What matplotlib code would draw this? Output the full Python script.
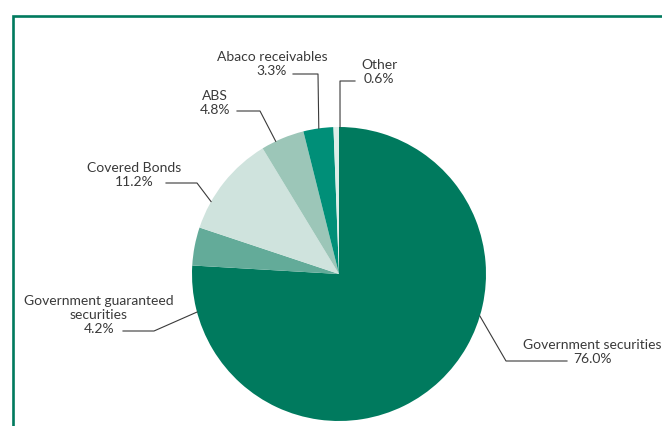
import matplotlib
matplotlib.use("Agg")
import matplotlib.pyplot as plt
import numpy as np

W, H = 662, 426

labels = ["Government securities", "Government guaranteed\nsecurities",
          "Covered Bonds", "ABS", "Abaco receivables", "Other"]
shares = [76.0, 4.2, 11.2, 4.8, 3.3, 0.6]
colors = ["#007a5e", "#63ab99", "#cfe3dd", "#9cc6b8", "#008f78", "#ddeee9"]

green = "#007a5e"
ink = "#3a3a3a"


def py(y):
    # pixel row -> data y
    return H - y


fig = plt.figure(figsize=(W / 100, H / 100), dpi=100)
ax = fig.add_axes([0, 0, 1, 1])

cx, cy, r = 339, 274, 147
ax.pie(shares, colors=colors, startangle=90, counterclock=False,
       center=(cx, py(cy)), radius=r, wedgeprops=dict(linewidth=0))

ax.set_xlim(0, W)
ax.set_ylim(0, H)
ax.set_aspect("equal")
ax.axis("off")

# green frame on top and left
ax.plot([12.5, 12.5, W], [0, py(15.5), py(15.5)], color=green, lw=1.9,
        solid_joinstyle="miter", clip_on=False)

# label text position, elbow point, start of leader and the angle where it meets the pie
layout = [
    ((592, 352), (567, 361), (506, 361), -16.6),
    ((99, 315), (123, 331), (154, 331), 195.0),
    ((134, 175), (166, 183), (197, 183), 150.5),
    ((215, 103), (237, 111), (260, 111), 115.5),
    ((272, 64), (293, 74), (318, 74), 97.9),
    ((379, 72), (355, 81), (340, 81), 89.6),
]

for lab, val, (txt, p0, p1, ang) in zip(labels, shares, layout):
    ax.text(txt[0], py(txt[1]), f"{lab}\n{val:.1f}%", ha="center", va="center",
            fontsize=10, color=ink, linespacing=1.2, family="Lato")
    a = np.radians(ang)
    ex, ey = cx + r * np.cos(a), py(cy) + r * np.sin(a)
    ax.plot([p0[0], p1[0], ex], [py(p0[1]), py(p1[1]), ey], color=ink, lw=0.8)

fig.savefig("out.png", dpi=100)
